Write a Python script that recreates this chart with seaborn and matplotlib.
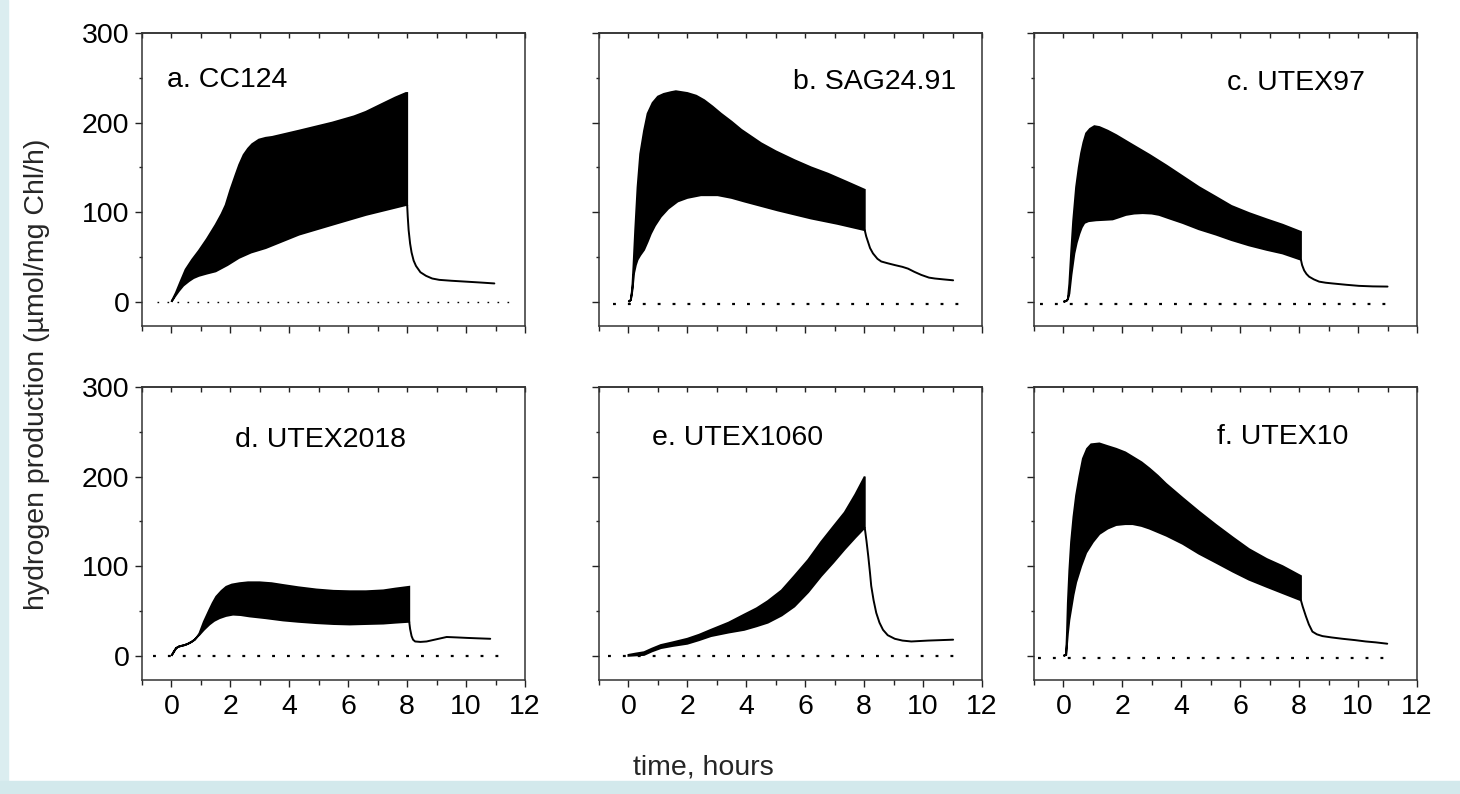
"""Hydrogen production traces for six Chlamydomonas strains (2x3 panels)."""

import matplotlib
matplotlib.use("Agg")
import matplotlib.pyplot as plt
from matplotlib.patches import Rectangle
from matplotlib.ticker import MultipleLocator
import numpy as np
import seaborn as sns

sns.set_theme(style="ticks")
plt.rcParams["font.family"] = ["Liberation Sans", "DejaVu Sans"]

strains = ["a. CC124", "b. SAG24.91", "c. UTEX97",
           "d. UTEX2018", "e. UTEX1060", "f. UTEX10"]

# upper / lower envelope of the oscillating trace during illumination (0-8 h)
# and the single decaying trace afterwards (8-11 h)
a_t_up = [0, 0.15, 0.3, 0.48, 0.7, 0.93, 1.2, 1.5, 1.7, 1.84, 2.0, 2.18, 2.3, 2.45, 2.6, 2.74,
          2.97, 3.2, 3.42, 4.33, 5.46, 6.2, 6.6, 7.16, 7.6, 7.96, 8.0]
a_up = [0, 10, 22, 36, 47, 57, 70, 86, 98, 108, 125, 142, 153, 164, 171, 176,
        181, 183, 184, 191, 200, 207, 212, 221, 228, 233, 233]
a_t_lo = [0, 0.12, 0.25, 0.4, 0.59, 0.75, 0.93, 1.2, 1.5, 1.9, 2.29, 2.7, 3.2, 4.33, 5.46,
          6.6, 7.96, 8.0]
a_lo = [0, 6, 12, 18, 23, 26.5, 29, 31.5, 34, 41, 49, 55, 60, 75, 86, 97, 108, 108]
a_t_tail = [8.0, 8.02, 8.05, 8.1, 8.15, 8.22, 8.3, 8.45, 8.64, 8.85, 9.09, 9.5, 10.0, 10.5, 10.96]
a_tail = [108, 95, 80, 65, 55, 46, 40, 33, 29, 26, 24.5, 23.5, 22.5, 21.5, 20.5]

b_t_up = [0, 0.08, 0.13, 0.17, 0.23, 0.31, 0.4, 0.53, 0.65, 0.82, 1.0, 1.2, 1.45, 1.61, 2.0,
          2.3, 2.57, 2.85, 3.14, 3.5, 3.83, 4.5, 5.0, 5.64, 6.2, 6.77, 7.4, 8.02]
b_up = [0, 2, 15, 39, 80, 128, 165, 191, 210, 222, 229, 232, 234, 235, 233,
        230, 225, 218, 210, 201, 192, 177, 168, 158, 150, 143, 134, 125]
b_t_lo = [0, 0.08, 0.13, 0.19, 0.25, 0.31, 0.4, 0.53, 0.65, 0.76, 0.9, 1.1, 1.35, 1.67, 2.0,
          2.46, 3.03, 3.5, 3.93, 5.07, 6.2, 7.1, 8.02]
b_lo = [0, 2, 12, 32, 41, 47, 52, 58, 67, 76, 85, 95, 104, 112, 116,
        119, 119, 116, 112, 102, 93, 87, 80]
b_t_tail = [8.02, 8.07, 8.13, 8.2, 8.3, 8.45, 8.58, 8.8, 9.04, 9.3, 9.49, 9.7, 9.94, 10.2,
            10.4, 10.7, 11.02]
b_tail = [80, 73, 67, 60, 54, 48, 45, 43, 41, 39, 37, 33.5, 30, 27, 26, 25, 24]

c_t_up = [0, 0.1, 0.15, 0.2, 0.26, 0.33, 0.43, 0.52, 0.6, 0.68, 0.77, 0.9, 1.05, 1.22, 1.5,
          1.79, 2.3, 2.92, 3.5, 4.05, 4.6, 5.18, 5.7, 6.3, 6.9, 7.44, 8.06]
c_up = [0, 1, 3, 20, 54, 90, 128, 150, 166, 178, 188, 193, 196, 195, 191,
        186, 176, 164, 152, 140, 128, 117, 107, 99, 92, 86, 78]
c_t_lo = [0, 0.1, 0.15, 0.2, 0.27, 0.37, 0.45, 0.54, 0.62, 0.71, 0.85, 1.11, 1.4, 1.67, 1.9,
          2.12, 2.4, 2.69, 3.0, 3.25, 3.6, 4.05, 4.6, 5.18, 5.7, 6.3, 6.9, 7.44, 8.06]
c_lo = [0, 1, 3, 9, 30, 54, 66, 76, 83, 88, 90, 91, 91.5, 92, 94.5,
        97, 98.5, 99, 98.5, 97, 93, 88, 81, 75, 69, 63, 58, 54, 47]
c_t_tail = [8.06, 8.1, 8.17, 8.25, 8.34, 8.5, 8.68, 8.9, 9.13, 9.6, 10.03, 10.5, 11.0]
c_tail = [47, 41, 35, 31, 28, 25, 22.5, 21.3, 20.5, 19, 17.8, 17.2, 17]

d_t_up = [0, 0.08, 0.16, 0.25, 0.33, 0.45, 0.56, 0.68, 0.79, 0.87, 0.95, 1.1, 1.29, 1.4, 1.52,
          1.7, 1.86, 2.05, 2.31, 2.6, 2.99, 3.4, 3.79, 4.3, 4.92, 5.5, 6.05, 6.6, 7.19, 7.6, 8.07]
d_up = [0, 4.5, 8.6, 10.3, 11, 12, 13.4, 15.5, 18, 21, 25, 38, 51.5, 59, 66,
        72.5, 77, 79.5, 81, 82, 82, 81, 79, 76.5, 74, 72.5, 72, 72, 73, 75, 77]
d_t_lo = [0, 0.08, 0.16, 0.25, 0.33, 0.45, 0.56, 0.68, 0.79, 0.87, 0.95, 1.1, 1.29, 1.45, 1.63,
          1.85, 2.09, 2.35, 2.65, 3.2, 3.79, 4.3, 4.92, 5.5, 6.05, 6.6, 7.19, 7.6, 8.07]
d_lo = [0, 4.5, 8.6, 10.3, 11, 12, 13.4, 15.5, 18, 21, 23.5, 29, 35, 39, 42,
        44.5, 46, 45.5, 44, 42, 39.5, 38, 36.5, 35.5, 35, 35.5, 36, 37, 38]
d_t_tail = [8.07, 8.1, 8.15, 8.2, 8.27, 8.45, 8.66, 9.0, 9.34, 9.7, 10.02, 10.4, 10.82]
d_tail = [38, 30, 22, 18, 16, 15.5, 16, 18.5, 21, 20.5, 20, 19.5, 19]

e_t_up = [0, 0.25, 0.53, 0.8, 1.1, 1.5, 2.0, 2.4, 2.8, 3.4, 3.93, 4.35, 4.73, 5.2, 5.63,
          6.1, 6.54, 6.95, 7.34, 7.7, 8.02]
e_up = [1, 2.5, 4, 8, 12, 15, 19, 23.5, 29, 37, 46, 53, 61, 73, 89,
        107, 127, 144, 160, 180, 200]
e_t_lo = [0, 0.25, 0.53, 0.8, 1.1, 1.5, 2.0, 2.4, 2.8, 3.4, 3.93, 4.35, 4.73, 5.2, 5.63,
          6.1, 6.54, 6.95, 7.34, 7.7, 8.02]
e_lo = [0, 0.5, 1, 5, 8.6, 11, 13.5, 17.5, 22, 26, 29, 33, 37, 45, 55,
        71, 89, 104, 119, 132, 143]
e_t_tail = [8.02, 8.08, 8.14, 8.2, 8.24, 8.32, 8.41, 8.52, 8.64, 8.8, 9.04, 9.3, 9.6, 10.17, 11.02]
e_tail = [143, 128, 111, 92, 78, 62, 48, 37, 29, 23, 19, 17, 16, 17, 18]

f_t_up = [0, 0.09, 0.12, 0.15, 0.2, 0.26, 0.34, 0.43, 0.54, 0.66, 0.8, 0.94, 1.22, 1.5, 1.79,
          2.1, 2.35, 2.65, 2.92, 3.2, 3.48, 4.05, 4.6, 5.18, 5.75, 6.3, 6.9, 7.44, 8.06]
f_up = [0, 1, 25, 59, 95, 127, 155, 179, 200, 220, 231, 236, 237, 234, 231,
        227, 222, 216, 209, 201, 192, 176, 161, 146, 132, 119, 108, 100, 89]
f_t_lo = [0, 0.09, 0.15, 0.2, 0.26, 0.34, 0.43, 0.6, 0.77, 1.0, 1.22, 1.5, 1.79, 2.1, 2.35,
          2.65, 2.92, 3.5, 4.05, 4.6, 5.18, 5.75, 6.3, 6.9, 7.44, 8.06]
f_lo = [0, 1, 25, 40, 52, 68, 82, 100, 115, 127, 136, 142, 146, 147, 147,
        145, 142, 134, 125, 114, 104, 94, 85, 77, 70, 62]
f_t_tail = [8.06, 8.12, 8.23, 8.33, 8.45, 8.6, 8.79, 9.1, 9.47, 9.9, 10.26, 10.6, 10.99]
f_tail = [62, 55, 44, 35, 27, 24, 22, 20.5, 19, 17.5, 16, 15, 13.5]

# dotted zero baseline of each panel: start, end, level
base_start = [-0.49, -0.54, -0.81, -0.63, -0.71, -0.87]
base_end = [11.6, 11.53, 11.28, 11.44, 11.36, 11.22]
base_level = [0, -3, -3, 0, 0, -2.6]

panels = [
    (a_t_up, a_up, a_t_lo, a_lo, a_t_tail, a_tail),
    (b_t_up, b_up, b_t_lo, b_lo, b_t_tail, b_tail),
    (c_t_up, c_up, c_t_lo, c_lo, c_t_tail, c_tail),
    (d_t_up, d_up, d_t_lo, d_lo, d_t_tail, d_tail),
    (e_t_up, e_up, e_t_lo, e_lo, e_t_tail, e_tail),
    (f_t_up, f_up, f_t_lo, f_lo, f_t_tail, f_tail),
]

# label placement (axes fraction, alignment)
label_pos = [(0.065, 0.84, "left"), (0.932, 0.833, "right"), (0.684, 0.83, "center"),
             (0.465, 0.82, "center"), (0.139, 0.827, "left"), (0.479, 0.83, "left")]

FS = 20.5
W, H = 1460, 794
fig = plt.figure(figsize=(W / 100, H / 100), dpi=100)
fig.patch.set_facecolor("white")

# light blue page border of the source slide
fig.patches.append(Rectangle((0, 0), 8 / W, 1, transform=fig.transFigure,
                             color="#dbedf0", zorder=0))
fig.patches.append(Rectangle((0, 0), 1, 13 / H, transform=fig.transFigure,
                             color="#d3e9ec", zorder=0))

col_left = [142, 599, 1034]
row_top = [33, 387]
ax_w, ax_h = 383, 293

for i, (t_up, up, t_lo, lo, t_tail, tail) in enumerate(panels):
    r, c = divmod(i, 3)
    ax = fig.add_axes([col_left[c] / W, 1 - (row_top[r] + ax_h) / H, ax_w / W, ax_h / H])
    ax.set_facecolor("white")

    # oscillating band
    ax.fill(np.r_[t_up, t_lo[::-1]], np.r_[up, lo[::-1]],
            facecolor="black", edgecolor="black", linewidth=1.4)
    sns.lineplot(x=t_tail, y=tail, ax=ax, color="black", linewidth=1.4,
                 sort=False, estimator=None)
    # zero baseline
    ax.plot([base_start[i], base_end[i]], [base_level[i], base_level[i]],
            color="black", linewidth=1.0 if i == 0 else 1.6,
            linestyle=(0, (1.2, 6)) if i == 0 else (0, (1.3, 5.4)))

    ax.set_xlim(-1, 12)
    ax.set_ylim(-27, 300)
    ax.xaxis.set_major_locator(MultipleLocator(2))
    ax.xaxis.set_minor_locator(MultipleLocator(1))
    ax.yaxis.set_major_locator(MultipleLocator(100))
    ax.yaxis.set_minor_locator(MultipleLocator(50))
    ax.tick_params(axis="both", which="both", direction="out", color="#222222",
                   labelsize=FS, labelcolor="black", top=False, right=False)
    ax.tick_params(axis="x", which="major", length=5, width=1, pad=5)
    ax.tick_params(axis="x", which="minor", length=3.5, width=1)
    ax.tick_params(axis="y", which="major", length=5, width=1, pad=4)
    ax.tick_params(axis="y", which="minor", length=2.5, width=1)
    if r == 0:
        ax.tick_params(axis="x", labelbottom=False)
    if c > 0:
        ax.tick_params(axis="y", labelleft=False)

    top = ax.secondary_xaxis("top")
    top.xaxis.set_major_locator(MultipleLocator(1))
    top.tick_params(direction="in", length=3.5, width=1, color="#222222", labeltop=False)

    for sp in list(ax.spines.values()) + list(top.spines.values()):
        sp.set_color("#333333")
        sp.set_linewidth(1.1)

    ax.set_xlabel("")
    ax.set_ylabel("")
    lx, ly, ha = label_pos[i]
    ax.text(lx, ly, strains[i], transform=ax.transAxes, ha=ha, va="center",
            fontsize=FS, color="black")

fig.text(37 / W, 1 - 374 / H, "hydrogen production (\u00b5mol/mg Chl/h)",
         rotation=90, ha="center", va="center", fontsize=FS)
fig.text(703 / W, 1 - 768 / H, "time, hours", ha="center", va="center", fontsize=FS)

fig.savefig("out.png", dpi=100)
plt.close(fig)
